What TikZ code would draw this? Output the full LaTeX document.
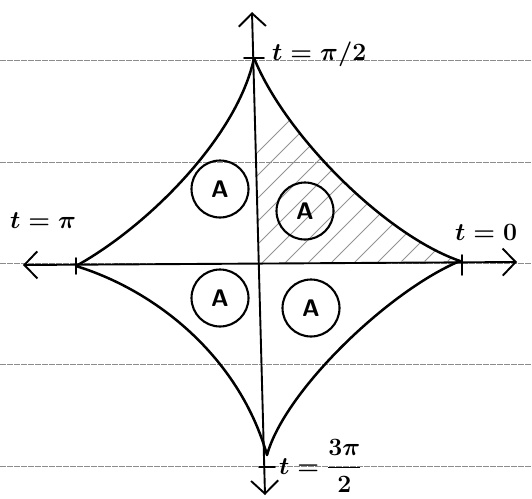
\documentclass[tikz,border=0pt]{standalone}
\usepackage{amsmath}
\usetikzlibrary{arrows.meta}
\begin{document}
\begin{tikzpicture}[x=1pt,y=-1pt,
  ruled/.style={black!45,line width=0.8pt,dash pattern=on 6pt off 1pt},
  hatch/.style={gray!85,line width=0.9pt,line cap=round},
  curve/.style={black,line width=2.5pt,line cap=round,line join=round},
  axisline/.style={black,line width=1.9pt,{Straight Barb[length=13pt,width=27pt]}-{Straight Barb[length=13pt,width=27pt]}},
  tickmark/.style={black,line width=1.9pt,line cap=round},
  circ/.style={draw,circle,line width=2.1pt,minimum size=57pt,inner sep=0pt,font=\fontsize{24}{24}\selectfont\sffamily\bfseries},
  lab/.style={anchor=base west,inner sep=0pt,font=\fontsize{28}{32}\selectfont\boldmath}]
\useasboundingbox (0,0) rectangle (532,498);
\fill[white] (0,0) rectangle (532,498);
% ruled paper
\foreach \yy in {60,162,263,364,466} \draw[ruled] (0,\yy) -- (532,\yy);
% cusps
\coordinate (T) at (254,58);
\coordinate (L) at (76,266);
\coordinate (R) at (460,261);
\coordinate (B) at (267,455);
\coordinate (O) at (259,263);
% hatching of the upper right quarter
\begin{scope}
\clip (T) .. controls (285,135) and (385,235) .. (R) -- (O) -- cycle;
\foreach \xx in {140,163,...,480} \draw[hatch] (\xx,270) -- ++(270,-270);
\end{scope}
% axes
\coordinate (xl) at (23,265);
\coordinate (xr) at (517,262);
\coordinate (yt) at (252,12);
\coordinate (yb) at (265,495);
\draw[axisline] (xl) -- (xr);
\draw[axisline] (yb) -- (yt);
% astroid arcs
\draw[curve] (T) .. controls (238,135) and (150,225) .. (L);
\draw[curve] (T) .. controls (285,135) and (385,235) .. (R);
\draw[curve] (L) .. controls (160,292) and (240,360) .. (B);
\draw[curve] (B) .. controls (285,390) and (390,290) .. (R);
% tick marks at the cusps
\draw[tickmark] (T) ++(-10,0) -- ++(20,0);
\draw[tickmark] (B) ++(-8,12) -- ++(16,0);
\draw[tickmark] (L) ++(0,-8) -- ++(0,16);
\draw[tickmark] (R) ++(2,-6) -- ++(0,20);
% circled areas
\node[circ] (aUL) at (220,189) {A};
\node[circ] (aUR) at (305,211) {A};
\node[circ] (aLL) at (220,298) {A};
\node[circ] (aLR) at (311,308) {A};
% labels
\node[lab] (ltop) at (272,60) {$t=\pi/2$};
\node[lab] (lleft) at (10,228) {$t=\pi$};
\node[lab] (lright) at (455,240) {$t=0$};
\node[lab] (lbot) at (279,474) {$t=\dfrac{3\pi}{2}$};
\end{tikzpicture}
\end{document}
